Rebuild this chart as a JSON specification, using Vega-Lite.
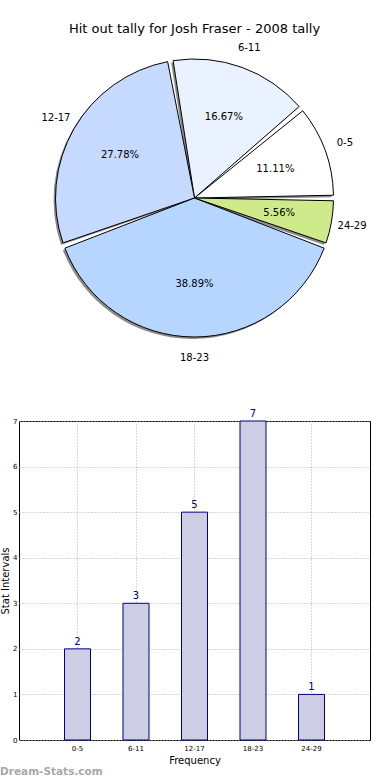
{
  "$schema": "https://vega.github.io/schema/vega-lite/v6.json",
  "padding": {"left": 0, "top": 22, "right": 0, "bottom": 0},
  "background": "white",
  "config": {
    "font": "DejaVu Sans",
    "view": {"stroke": null},
    "title": {"font": "DejaVu Sans", "fontWeight": "normal", "color": "black"},
    "axis": {"labelFont": "DejaVu Sans", "titleFont": "DejaVu Sans", "labelColor": "black", "titleColor": "black"}
  },
  "title": {"text": "Dream-Stats.com", "orient": "bottom", "anchor": "start", "fontSize": 10.5, "fontWeight": "bold", "color": "#a8a8a8", "offset": 1},
  "bounds": "flush",
  "spacing": 70,
  "vconcat": [
    {
      "width": 351,
      "height": 306,
      "title": {"text": "Hit out tally for Josh Fraser - 2008 tally", "fontSize": 13, "offset": 7},
      "data": {"values": [
        {"range": "0-5", "count": 2, "pct": "11.11%", "ord": 5},
        {"range": "6-11", "count": 3, "pct": "16.67%", "ord": 4},
        {"range": "12-17", "count": 5, "pct": "27.78%", "ord": 3},
        {"range": "18-23", "count": 7, "pct": "38.89%", "ord": 2},
        {"range": "24-29", "count": 1, "pct": "5.56%", "ord": 1}
      ]},
      "encoding": {
        "theta": {"field": "count", "type": "quantitative", "stack": true, "scale": {"range": [1.5708, 7.854]}},
        "order": {"field": "ord", "type": "quantitative"}
      },
      "layer": [
        {"mark": {"type": "arc", "radius": 139, "padAngle": 0.04, "fill": "#8c8c8c", "xOffset": -2, "yOffset": 2}},
        {"mark": {"type": "arc", "radius": 139, "padAngle": 0.04, "stroke": "black", "strokeWidth": 1},
         "encoding": {"color": {"field": "range", "type": "nominal", "legend": null,
           "scale": {"domain": ["0-5", "6-11", "12-17", "18-23", "24-29"], "range": ["#ffffff", "#eaf2ff", "#c6d9ff", "#b6d6ff", "#cfea8a"]}}}},
        {"mark": {"type": "text", "radius": 86, "fontSize": 10, "color": "black"},
         "encoding": {"text": {"field": "pct"}}},
        {"mark": {"type": "text", "radius": 160, "fontSize": 10, "color": "black"},
         "encoding": {"text": {"field": "range"}}}
      ]
    },
    {
      "width": 351,
      "height": 319,
      "view": {"stroke": "black", "strokeWidth": 1},
      "data": {"values": [
        {"range": "0-5", "count": 2},
        {"range": "6-11", "count": 3},
        {"range": "12-17", "count": 5},
        {"range": "18-23", "count": 7},
        {"range": "24-29", "count": 1}
      ]},
      "encoding": {
        "x": {"field": "range", "type": "nominal", "sort": null,
          "scale": {"paddingInner": 0.556, "paddingOuter": 0.778},
          "axis": {"labelAngle": 0, "labelFontSize": 7, "grid": true, "bandPosition": 0.5, "gridDash": [1, 2], "gridColor": "#b0b0b0", "ticks": false, "domain": false, "title": "Frequency", "titleFontSize": 10, "titleFontWeight": "normal", "labelPadding": 4, "titlePadding": 4}},
        "y": {"field": "count", "type": "quantitative", "scale": {"domain": [0, 7], "nice": false},
          "axis": {"values": [0, 1, 2, 3, 4, 5, 6, 7], "labelFontSize": 7, "grid": true, "gridDash": [1, 2], "gridColor": "#b0b0b0", "ticks": false, "domain": false, "title": "Stat Intervals", "titleFontSize": 10, "titleFontWeight": "normal", "labelPadding": 2, "titlePadding": 2}}
      },
      "layer": [
        {"mark": {"type": "bar", "fill": "#cdcde3", "stroke": "#000080", "strokeWidth": 1}},
        {"mark": {"type": "text", "dy": -7, "color": "#000080", "fontSize": 10},
         "encoding": {"text": {"field": "count", "type": "quantitative"}}}
      ]
    }
  ]
}
